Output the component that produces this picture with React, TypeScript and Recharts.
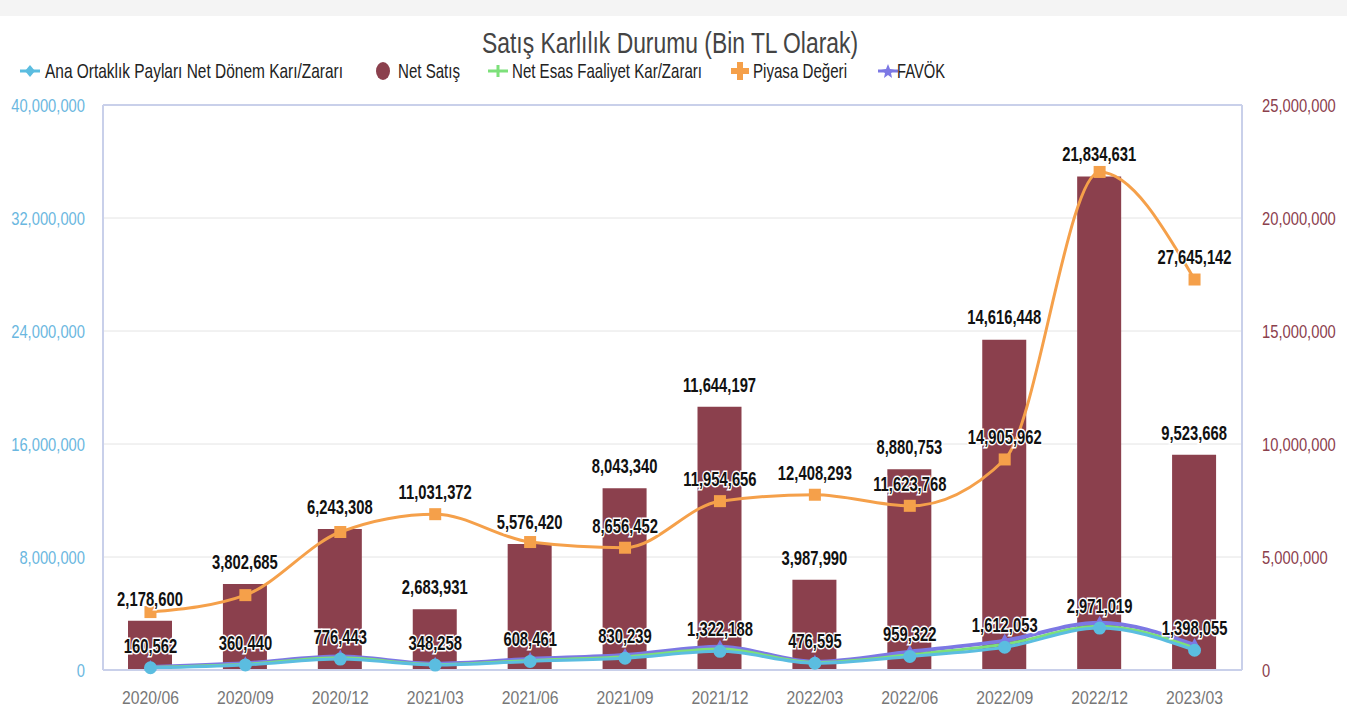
import React from "react";
import {
  ComposedChart,
  Bar,
  Line,
  XAxis,
  YAxis,
  CartesianGrid,
  LabelList,
  ReferenceLine,
} from "recharts";

const CATEGORIES = [
  "2020/06", "2020/09", "2020/12", "2021/03", "2021/06", "2021/09",
  "2021/12", "2022/03", "2022/06", "2022/09", "2022/12", "2023/03",
];
const NET_SATIS = [
  2178600, 3802685, 6243308, 2683931, 5576420, 8043340,
  11644197, 3987990, 8880753, 14616448, 21834631, 9523668,
];
const PIYASA_DEGERI = [
  4100000, 5300000, 9770000, 11031372, 9060000, 8656452,
  11954656, 12408293, 11623768, 14905962, 35260000, 27645142,
];
const ANA_ORTAKLIK = [
  160562, 360440, 776443, 348258, 608461, 830239,
  1322188, 476595, 959322, 1612053, 2971019, 1398055,
];
const NET_ESAS = [
  180000, 410000, 860000, 390000, 680000, 930000,
  1480000, 530000, 1080000, 1820000, 3100000, 1560000,
];
const FAVOK = [
  220000, 480000, 950000, 440000, 780000, 1060000,
  1650000, 580000, 1300000, 2080000, 3350000, 1770000,
];
const LEFT_TICKS = [0, 8000000, 16000000, 24000000, 32000000, 40000000];
const RIGHT_TICKS = [0, 5000000, 10000000, 15000000, 20000000, 25000000];
// orange labels the original hid because they overlapped
const PIYASA_HIDDEN = [0, 1, 2, 4, 10];

const data = CATEGORIES.map((name, i) => ({
  name,
  anaOrtaklik: ANA_ORTAKLIK[i],
  netSatis: NET_SATIS[i],
  netEsas: NET_ESAS[i],
  piyasa: PIYASA_DEGERI[i],
  favok: FAVOK[i],
}));

const FONT = '"Liberation Sans", Arial, sans-serif';
const C_BAR = "#8b404d";
const C_ORANGE = "#f5a04a";
const C_BLUE = "#5bbde0";
const C_GREEN = "#7de07a";
const C_PURPLE = "#7c78e4";
const C_FRAME = "#c9d0ea";

const fmt = (v: number) => v.toLocaleString("en-US");

// the original uses a very narrow font, so squeeze the text horizontally
const CondText = (p: {
  x: number;
  y: number;
  anchor: "start" | "middle" | "end";
  size: number;
  sx: number;
  fill: string;
  bold?: boolean;
  outline?: boolean;
  children: React.ReactNode;
}) => (
  <text
    transform={`translate(${p.x},${p.y}) scale(${p.sx},1)`}
    textAnchor={p.anchor}
    dominantBaseline="central"
    fontFamily={FONT}
    fontSize={p.size}
    fontWeight={p.bold ? "bold" : "normal"}
    fill={p.fill}
    stroke={p.outline ? "#fff" : undefined}
    strokeWidth={p.outline ? 3 : undefined}
    paintOrder="stroke"
  >
    {p.children}
  </text>
);

const valueLabel = (x: number, y: number, v: number) => (
  <CondText x={x} y={y} anchor="middle" size={20} sx={0.74} fill="#111" bold outline>
    {fmt(v)}
  </CondText>
);

const BarLabel = (props: any) => {
  const { x, y, width, value } = props;
  return valueLabel(Number(x) + Number(width) / 2, Number(y) - 22, value);
};

const PiyasaLabel = (props: any) => {
  const { x, y, value, index } = props;
  if (PIYASA_HIDDEN.includes(index)) return null;
  return valueLabel(Number(x), Number(y) - 22, value);
};

const AnaLabel = (props: any) => {
  const { x, y, value } = props;
  return valueLabel(Number(x), Number(y) - 22, value);
};

const LeftTick = (props: any) => {
  const { x, y, payload } = props;
  return (
    <CondText x={x} y={y} anchor="end" size={18} sx={0.82} fill="#6ab7e0">
      {fmt(payload.value)}
    </CondText>
  );
};

const RightTick = (props: any) => {
  const { x, y, payload } = props;
  return (
    <CondText x={x} y={y} anchor="start" size={18} sx={0.82} fill="#8b404d">
      {fmt(payload.value)}
    </CondText>
  );
};

const BottomTick = (props: any) => {
  const { x, y, payload } = props;
  return (
    <CondText x={x} y={y} anchor="middle" size={19} sx={0.83} fill="#777">
      {payload.value}
    </CondText>
  );
};

const SquareDot = (props: any) => {
  const { cx, cy } = props;
  return <rect x={cx - 6} y={cy - 6} width={12} height={12} fill={C_ORANGE} />;
};

const TriDot = (props: any) => {
  const { cx, cy } = props;
  return (
    <polygon
      points={`${cx},${cy - 7} ${cx + 6},${cy + 4} ${cx - 6},${cy + 4}`}
      fill={C_PURPLE}
    />
  );
};

const LEGEND_SX = 0.72;
const legendItems = [
  { label: "Ana Ortaklık Payları Net Dönem Karı/Zararı", color: C_BLUE, shape: "diamond", icon: 30, x0: 45, x1: 343 },
  { label: "Net Satış", color: C_BAR, shape: "circle", icon: 383, x0: 398, x1: 460 },
  { label: "Net Esas Faaliyet Kar/Zararı", color: C_GREEN, shape: "plus", icon: 498, x0: 512, x1: 702 },
  { label: "Piyasa Değeri", color: C_ORANGE, shape: "square", icon: 740, x0: 753, x1: 847 },
  { label: "FAVÖK", color: C_PURPLE, shape: "star", icon: 888, x0: 897, x1: 945 },
];

const LegendIcon = ({ shape, color, cx }: { shape: string; color: string; cx: number }) => {
  const cy = 71;
  if (shape === "circle") {
    return <ellipse cx={cx} cy={cy} rx={7} ry={9} fill={color} />;
  }
  const line = <rect x={cx - 10} y={cy - 1.5} width={20} height={3} fill={color} />;
  if (shape === "diamond") {
    return (
      <g>
        {line}
        <polygon points={`${cx},${cy - 6} ${cx + 5},${cy} ${cx},${cy + 6} ${cx - 5},${cy}`} fill={color} />
      </g>
    );
  }
  if (shape === "star") {
    return (
      <g>
        {line}
        <polygon
          points={`${cx},${cy - 7} ${cx + 2},${cy - 2} ${cx + 7},${cy - 1} ${cx + 3},${cy + 2} ${cx + 4},${cy + 7} ${cx},${cy + 4} ${cx - 4},${cy + 7} ${cx - 3},${cy + 2} ${cx - 7},${cy - 1} ${cx - 2},${cy - 2}`}
          fill={color}
        />
      </g>
    );
  }
  if (shape === "square") {
    return (
      <g>
        <rect x={cx - 9} y={cy - 3} width={18} height={6} fill={color} />
        <rect x={cx - 3} y={cy - 9} width={6} height={18} fill={color} />
      </g>
    );
  }
  return (
    <g>
      {line}
      <rect x={cx - 1.5} y={cy - 6} width={3} height={12} fill={color} />
    </g>
  );
};

export default function App() {
  return (
    <div style={{ position: "absolute", left: 0, top: 0, width: 1347, height: 710, background: "#fff" }}>
      <div style={{ position: "absolute", left: 0, top: 0, width: 1347, height: 16, background: "#f4f4f4" }} />
      <svg
        width={1347}
        height={100}
        style={{ position: "absolute", left: 0, top: 0, pointerEvents: "none" }}
      >
        <text
          transform="translate(482,53) scale(0.8,1)"
          fontFamily={FONT}
          fontSize={29}
          fill="#444"
          textLength={376 / 0.8}
          lengthAdjust="spacingAndGlyphs"
        >
          Satış Karlılık Durumu (Bin TL Olarak)
        </text>
        {legendItems.map((it) => (
          <g key={it.label}>
            <LegendIcon shape={it.shape} color={it.color} cx={it.icon} />
            <text
              transform={`translate(${it.x0},78) scale(${LEGEND_SX},1)`}
              fontFamily={FONT}
              fontSize={20}
              fill="#222"
              textLength={(it.x1 - it.x0) / LEGEND_SX}
              lengthAdjust="spacingAndGlyphs"
            >
              {it.label}
            </text>
          </g>
        ))}
      </svg>
      <div style={{ position: "absolute", left: 0, top: 0 }}>
        <ComposedChart
          width={1347}
          height={710}
          data={data}
          margin={{ top: 105, right: 0, bottom: 10, left: 0 }}
        >
          <CartesianGrid vertical={false} stroke="#e4e4e4" yAxisId="left" />
          <XAxis
            dataKey="name"
            tickLine={false}
            tickSize={0}
            tickMargin={27}
            axisLine={{ stroke: C_FRAME, strokeWidth: 2 }}
            tick={<BottomTick />}
            height={30}
          />
          <YAxis
            yAxisId="left"
            domain={[0, 40000000]}
            ticks={LEFT_TICKS}
            width={103}
            tickLine={false}
            tickSize={0}
            tickMargin={18}
            axisLine={{ stroke: C_FRAME, strokeWidth: 2 }}
            tick={<LeftTick />}
          />
          <YAxis
            yAxisId="right"
            orientation="right"
            domain={[0, 25000000]}
            ticks={RIGHT_TICKS}
            width={105}
            tickLine={false}
            tickSize={0}
            tickMargin={20}
            axisLine={{ stroke: C_FRAME, strokeWidth: 2 }}
            tick={<RightTick />}
          />
          <ReferenceLine yAxisId="left" y={40000000} stroke={C_FRAME} strokeWidth={2} />
          <Bar
            yAxisId="right"
            dataKey="netSatis"
            name="Net Satış"
            fill={C_BAR}
            barSize={44}
            isAnimationActive={false}
          >
            <LabelList dataKey="netSatis" content={BarLabel} />
          </Bar>
          <Line
            yAxisId="left"
            type="monotone"
            dataKey="piyasa"
            name="Piyasa Değeri"
            stroke={C_ORANGE}
            strokeWidth={3}
            dot={<SquareDot />}
            isAnimationActive={false}
          >
            <LabelList dataKey="piyasa" content={PiyasaLabel} />
          </Line>
          <Line
            yAxisId="left"
            type="monotone"
            dataKey="favok"
            name="FAVÖK"
            stroke={C_PURPLE}
            strokeWidth={4}
            dot={<TriDot />}
            isAnimationActive={false}
          />
          <Line
            yAxisId="left"
            type="monotone"
            dataKey="netEsas"
            name="Net Esas Faaliyet Kar/Zararı"
            stroke={C_GREEN}
            strokeWidth={3}
            dot={false}
            isAnimationActive={false}
          />
          <Line
            yAxisId="left"
            type="monotone"
            dataKey="anaOrtaklik"
            name="Ana Ortaklık Payları Net Dönem Karı/Zararı"
            stroke={C_BLUE}
            strokeWidth={3}
            dot={{ r: 5, fill: C_BLUE, stroke: C_BLUE }}
            isAnimationActive={false}
          >
            <LabelList dataKey="anaOrtaklik" content={AnaLabel} />
          </Line>
        </ComposedChart>
      </div>
    </div>
  );
}
